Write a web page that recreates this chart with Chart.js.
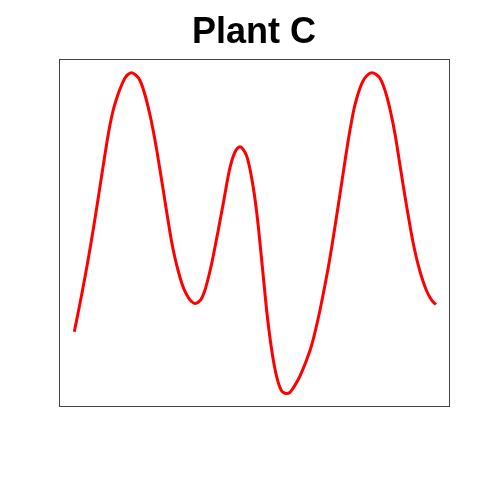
<!DOCTYPE html>
<html>
<head>
<meta charset="utf-8">
<script src="https://cdn.jsdelivr.net/npm/chart.js@4/dist/chart.umd.min.js"></script>
<style>
  html, body { margin: 0; padding: 0; background: #fff; }
  #wrap { width: 480px; height: 480px; }
</style>
</head>
<body>
<div id="wrap"><canvas id="chart" width="480" height="480"></canvas></div>
<script>
const title = "Plant C";

// x positions and values (arbitrary units)
const xs = [
  0.24, 1.26, 2.37, 3.48, 4.58, 5.69, 6.8, 7.91, 8.88, 9.85,
  10.95, 11.78, 12.89, 14.28, 15.11, 16.13, 17.18, 18.43, 19.82, 21.2,
  22.11, 23.06, 23.97, 25.08, 26.18, 27.15, 28.12, 29.09, 29.98, 30.89,
  31.81, 32.69, 33.66, 34.63, 35.52, 36.43, 37.34, 38.29, 39.2, 40.11,
  41.5, 42.25, 43.08, 43.91, 44.74, 45.43, 46.12, 47.04, 47.98, 48.67,
  49.36, 50.06, 50.75, 51.22, 51.66, 52.13, 52.58, 53.05, 53.52, 54.21,
  54.9, 55.59, 56.29, 56.98, 57.67, 58.36, 59.06, 59.97, 60.88, 62.18,
  63.65, 64.82, 65.98, 67.17, 68.28, 69.66, 71.05, 72.43, 73.82, 75.2,
  76.11, 77.06, 77.75, 78.44, 79.35, 80.27, 81.29, 82.59, 83.78, 84.89,
  85.81, 86.75, 87.8, 89.05, 90.29, 91.54, 92.37, 93.2, 94.11, 95.06,
  95.97, 96.88, 97.82, 98.74, 99.57, 100.4,
];
const values = [
  19.12, 24.79, 31.17, 37.86, 44.86, 52.33, 60.27, 68.36, 75.37, 81.9,
  87.82, 91.08, 94.66, 98.09, 99.18, 99.74, 99.08, 97.31, 92.8, 86.57,
  81.59, 75.68, 69.45, 61.67, 53.89, 47.35, 42.06, 37.71, 34.28, 31.64,
  29.77, 28.52, 27.9, 28.37, 29.52, 32.1, 35.84, 40.41, 45.49, 50.78,
  59.09, 63.85, 68.83, 72.57, 75.05, 76.24, 76.7, 75.83, 73.81, 70.85,
  66.96, 62.14, 56.29, 51.62, 46.73, 41.35, 36.27, 30.86, 25.57, 19.03,
  13.43, 8.76, 5.03, 2.38, 0.67, 0.11, -0.11, 0.26, 1.66, 4.09,
  7.73, 11.1, 14.99, 20.28, 25.88, 33.66, 42.22, 51.87, 61.98, 72.25,
  78.79, 84.86, 88.75, 91.71, 94.97, 97.31, 98.86, 99.74, 99.24, 97.99,
  95.75, 92.48, 87.66, 80.66, 71.94, 63.07, 57.47, 52.02, 46.58, 41.75,
  37.86, 34.59, 31.79, 29.77, 28.43, 27.59,
];

const points = xs.map((x, i) => ({ x: x, y: values[i] }));

// plain box round the plot area
const frame = {
  id: "frame",
  afterDraw(chart) {
    const { ctx, chartArea: a } = chart;
    ctx.save();
    ctx.strokeStyle = "#444";
    ctx.lineWidth = 1;
    ctx.strokeRect(Math.round(a.left) + 0.5, Math.round(a.top) + 0.5,
      Math.round(a.right - a.left), Math.round(a.bottom - a.top));
    ctx.restore();
  },
};

new Chart(document.getElementById("chart").getContext("2d"), {
  type: "line",
  data: {
    datasets: [
      {
        data: points,
        borderColor: "#ff0000",
        borderWidth: 3,
        pointRadius: 0,
        cubicInterpolationMode: "monotone",
        fill: false,
      },
    ],
  },
  options: {
    responsive: false,
    animation: false,
    layout: {
      padding: { left: 59, right: 31, top: 0, bottom: 74 },
    },
    plugins: {
      legend: { display: false },
      tooltip: { enabled: false },
      title: {
        display: true,
        text: title,
        color: "#000",
        font: { family: "Liberation Sans, Arial, sans-serif", size: 36, weight: "bold", lineHeight: 1.2 },
        padding: { top: 11, bottom: 4.8 },
      },
    },
    scales: {
      x: { type: "linear", min: -4, max: 104, display: false },
      y: { type: "linear", min: -4, max: 104, display: false },
    },
  },
  plugins: [frame],
});
</script>
</body>
</html>
